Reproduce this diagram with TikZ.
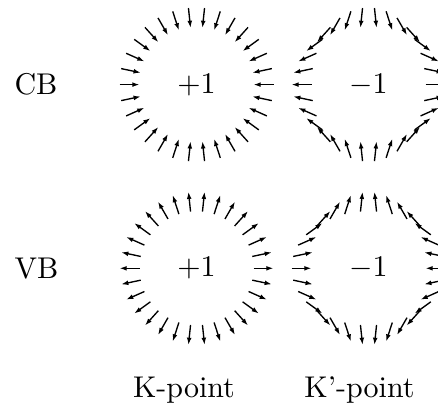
\documentclass[tikz,border=0pt]{standalone}
\usetikzlibrary{arrows.meta}
\begin{document}
\begin{tikzpicture}[x=0.33333pt,y=0.33333pt,
  vec/.style={line width=0.45pt,-{Latex[length=2.4pt,width=1.6pt]}},
  lbl/.style={inner sep=0pt,font=\fontsize{10}{12}\selectfont}]
\clip (0,0) rectangle (438,412);
\useasboundingbox (0,0) rectangle (438,412);
\coordinate (cbK) at (196.5,327.4);
\coordinate (cbKp) at (368.5,327.4);
\coordinate (vbK) at (196.5,143.7);
\coordinate (vbKp) at (368.5,143.7);
\foreach \i in {0,...,29}{
  \pgfmathsetmacro{\t}{12*\i}
  % CB, K: inward
  \pgfmathsetmacro{\d}{\t+180}
  \draw[vec] (cbK) ++(\t:67) ++(\d:-10) -- ++(\d:20);
  % CB, K': direction -theta
  \pgfmathsetmacro{\d}{-\t}
  \draw[vec] (cbKp) ++(\t:67) ++(\d:-10) -- ++(\d:20);
  % VB, K: outward
  \pgfmathsetmacro{\d}{\t}
  \draw[vec] (vbK) ++(\t:67) ++(\d:-10) -- ++(\d:20);
  % VB, K': direction 180-theta
  \pgfmathsetmacro{\d}{180-\t}
  \draw[vec] (vbKp) ++(\t:67) ++(\d:-10) -- ++(\d:20);
}
\node[lbl] (wcbK) at (cbK) {$+1$};
\node[lbl] (wcbKp) at (cbKp) {$-1$};
\node[lbl] (wvbK) at (vbK) {$+1$};
\node[lbl] (wvbKp) at (vbKp) {$-1$};
\node[lbl] (cb) at (36,327.4) {CB};
\node[lbl] (vb) at (36.5,143.7) {VB};
\node[lbl,anchor=base] (kp) at (184,15) {K-point};
\node[lbl,anchor=base] (kpp) at (359.5,15) {K'-point};
\end{tikzpicture}
\end{document}
